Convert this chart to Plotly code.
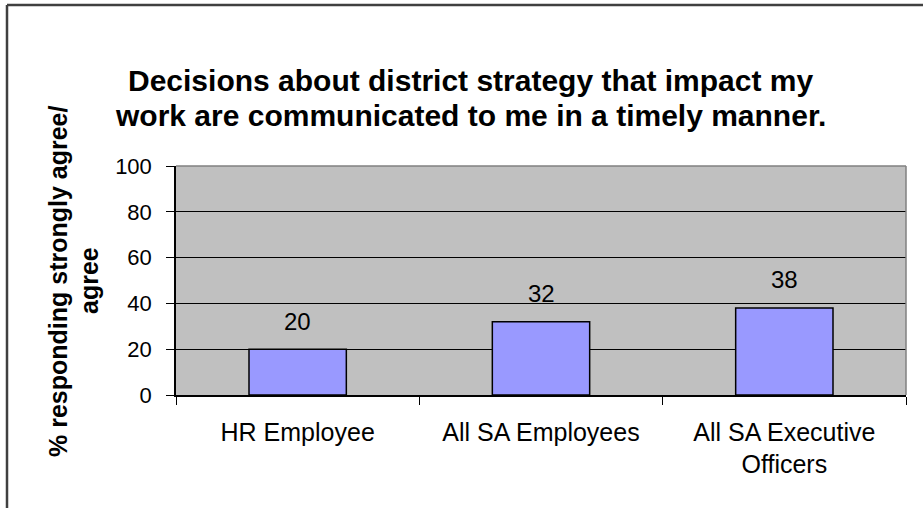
import plotly.graph_objects as go

# Survey results
categories = ["HR Employee", "All SA Employees", "All SA Executive<br>Officers"]
values = [20, 32, 38]
y_ticks = [0, 20, 40, 60, 80, 100]

title_lines = [
    "Decisions about district strategy that impact my",
    "work are communicated to me in a timely manner.",
]
ytitle_lines = ["% responding strongly agree/", "agree"]

W, H = 923, 508
ML, MR, MT, MB = 176, 17, 166, 113
PW, PH = W - ML - MR, H - MT - MB


def px_x(px):
    return (px - ML) / PW


def px_y(py):
    return 1 - (py - MT) / PH


FONT = "Liberation Sans, Arial, sans-serif"

fig = go.Figure()
fig.add_trace(go.Bar(
    x=categories,
    y=values,
    marker=dict(color="#9999FF", line=dict(color="black", width=1.5)),
    width=0.4,
    hoverinfo="skip",
))

annotations = []
# value labels above bars
for c, v in zip(categories, values):
    annotations.append(dict(
        x=c, y=v, xref="x", yref="y", text=str(v), showarrow=False,
        yanchor="middle", yshift=28,
        font=dict(family=FONT, size=24, color="black"),
    ))

# chart title, one annotation per line
for i, line in enumerate(title_lines):
    annotations.append(dict(
        x=px_x(470), y=px_y(80 + 35 * i), xref="paper", yref="paper",
        text="<b>%s</b>" % line, showarrow=False,
        xanchor="center", yanchor="middle",
        font=dict(family=FONT, size=30, color="black"),
    ))

# rotated y-axis title
for i, line in enumerate(ytitle_lines):
    annotations.append(dict(
        x=px_x(58 + 31 * i), y=px_y(281), xref="paper", yref="paper",
        text="<b>%s</b>" % line, showarrow=False, textangle=-90,
        xanchor="center", yanchor="middle",
        font=dict(family=FONT, size=25, color="black"),
    ))

shapes = [
    # grey plot-area border on top and right
    dict(type="line", xref="paper", yref="paper", x0=0, x1=1, y0=1, y1=1,
         line=dict(color="#808080", width=1.5)),
    dict(type="line", xref="paper", yref="paper", x0=1, x1=1, y0=0, y1=1,
         line=dict(color="#808080", width=1.5)),
    # outer chart frame
    dict(type="line", xref="paper", yref="paper",
         x0=px_x(7), x1=px_x(W + 10), y0=px_y(5), y1=px_y(5),
         line=dict(color="#404040", width=2.5)),
    dict(type="line", xref="paper", yref="paper",
         x0=px_x(7), x1=px_x(7), y0=px_y(5), y1=px_y(H + 10),
         line=dict(color="#404040", width=2.5)),
]

fig.update_layout(
    width=W, height=H,
    margin=dict(l=ML, r=MR, t=MT, b=MB, pad=0),
    paper_bgcolor="white",
    plot_bgcolor="#C0C0C0",
    showlegend=False,
    font=dict(family=FONT, color="black"),
    annotations=annotations,
    shapes=shapes,
    xaxis=dict(
        type="category",
        showline=True, linecolor="black", linewidth=1.5,
        ticks="outside", ticklen=8, tickcolor="black", tickwidth=1.2,
        tickson="boundaries",
        showgrid=False,
        tickfont=dict(family=FONT, size=25, color="black"),
        ticklabelstandoff=14,
    ),
    yaxis=dict(
        range=[0, 100],
        tickvals=y_ticks,
        showline=True, linecolor="black", linewidth=1.5,
        ticks="outside", ticklen=8, tickcolor="black", tickwidth=1.2,
        showgrid=True, gridcolor="black", gridwidth=1.2,
        zeroline=False,
        tickfont=dict(family=FONT, size=22, color="black"),
        ticklabelstandoff=10,
    ),
)

fig.write_html("out.html")
